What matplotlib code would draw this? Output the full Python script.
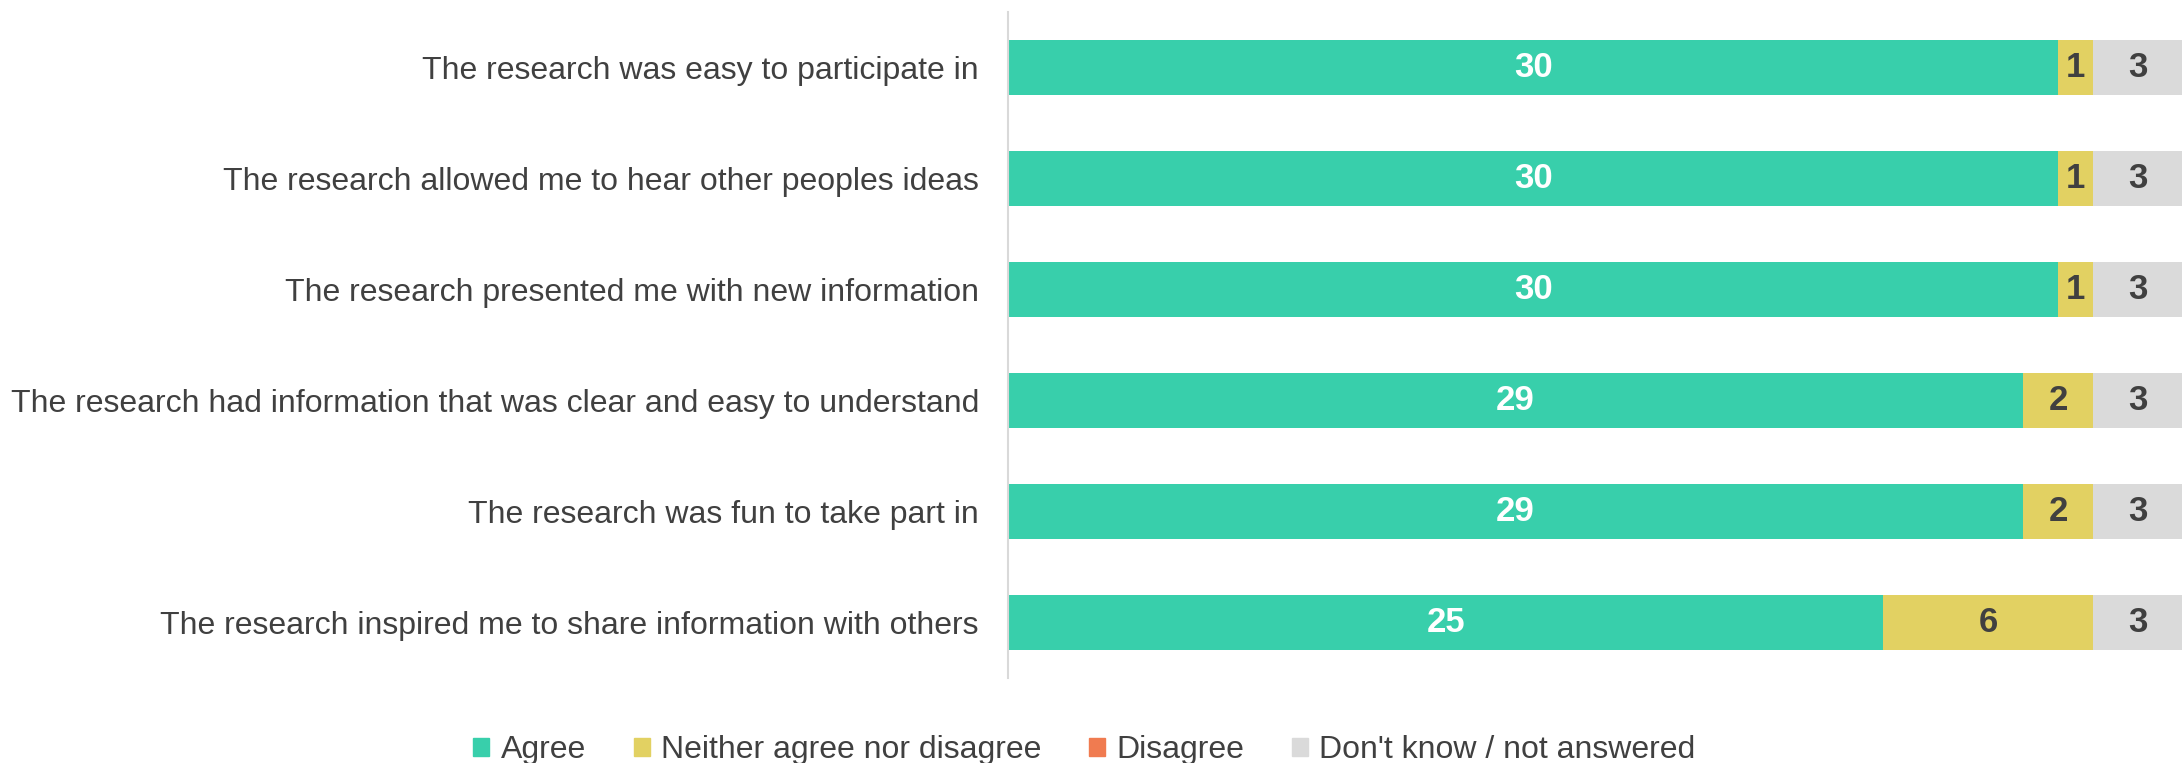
import matplotlib.pyplot as plt
from matplotlib.patches import Patch

plt.rcParams['font.family'] = ['Liberation Sans', 'DejaVu Sans']

statements = [
    "The research was easy to participate in",
    "The research allowed me to hear other peoples ideas",
    "The research presented me with new information",
    "The research had information that was clear and easy to understand",
    "The research was fun to take part in",
    "The research inspired me to share information with others",
]
agree = [30, 30, 30, 29, 29, 25]
neither = [1, 1, 1, 2, 2, 6]
disagree = [0, 0, 0, 0, 0, 0]
dont_know = [3, 3, 3, 3, 3, 3]

series = [
    ("Agree", agree, "#38CFAB", "white"),
    ("Neither agree nor disagree", neither, "#E2D162", "#404040"),
    ("Disagree", disagree, "#F07B50", "#404040"),
    ("Don't know / not answered", dont_know, "#DADADA", "#404040"),
]

fig = plt.figure(figsize=(21.82, 7.63), dpi=100)
ax = fig.add_axes([0.462, 0.1114, 0.538, 0.8726])

y = list(range(len(statements)))
left = [0] * len(statements)
for name, vals, color, txt_color in series:
    bars = ax.barh(y, vals, left=left, height=0.5, color=color, label=name)
    labels = [str(v) if v > 0 else "" for v in vals]
    ax.bar_label(bars, labels=labels, label_type='center', color=txt_color,
                 fontsize=25, fontweight='bold')
    left = [a + b for a, b in zip(left, vals)]

ax.set_xlim(0, 33.54)
ax.set_ylim(5.5, -0.5)
ax.set_yticks(y)
ax.set_yticklabels(statements, fontsize=23, color='#404040')
ax.tick_params(axis='y', length=0, pad=21)
ax.set_xticks([])
for s in ['top', 'right', 'bottom']:
    ax.spines[s].set_visible(False)
ax.spines['left'].set_color('#D9D9D9')
ax.spines['left'].set_linewidth(1.5)

handles = [Patch(color=c) for _, _, c, _ in series]
names = [n for n, _, _, _ in series]
fig.legend(handles, names, loc='center', bbox_to_anchor=(0.497, 0.017), ncol=4,
           frameon=False, fontsize=23, labelcolor='#404040',
           handlelength=0.5, handleheight=0.5, handletextpad=0.35,
           columnspacing=1.5)

fig.savefig("out.png", dpi=100)
